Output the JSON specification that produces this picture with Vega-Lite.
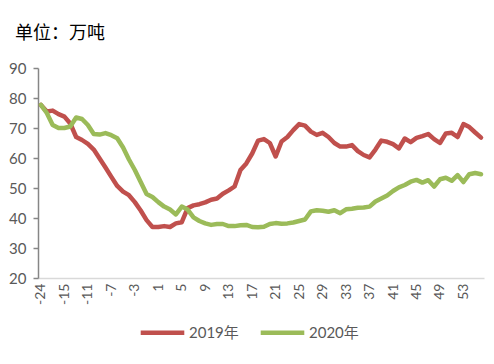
{
  "$schema": "https://vega.github.io/schema/vega-lite/v6.json",
  "width": 446,
  "height": 210,
  "autosize": {"type": "none"},
  "padding": {"left": 38, "top": 68, "right": 10, "bottom": 86},
  "background": "white",
  "title": {"text": "单位：万吨", "anchor": "start", "frame": "group", "dx": -23, "dy": 25, "offset": 29, "baseline": "alphabetic", "fontSize": 18, "fontWeight": "normal", "font": "Noto Sans CJK SC", "color": "#000000"},
  "data": {"values": [
    {"w": -24, "2019年": 77.7, "2020年": 77.7},
    {"w": -18, "2019年": 75.5, "2020年": 75},
    {"w": -17, "2019年": 75.8, "2020年": 71},
    {"w": -16, "2019年": 74.6, "2020年": 70},
    {"w": -15, "2019年": 73.8, "2020年": 70},
    {"w": -14, "2019年": 71.5, "2020年": 70.5},
    {"w": -13, "2019年": 67, "2020年": 73.5},
    {"w": -12, "2019年": 66, "2020年": 73},
    {"w": -11, "2019年": 64.7, "2020年": 71},
    {"w": -10, "2019年": 62.8, "2020年": 68},
    {"w": -9, "2019年": 59.8, "2020年": 67.8},
    {"w": -8, "2019年": 56.8, "2020年": 68.3},
    {"w": -7, "2019年": 53.7, "2020年": 67.6},
    {"w": -6, "2019年": 50.7, "2020年": 66.6},
    {"w": -5, "2019年": 48.8, "2020年": 63.5},
    {"w": -4, "2019年": 47.6, "2020年": 59.5},
    {"w": -3, "2019年": 45.3, "2020年": 56},
    {"w": -2, "2019年": 42.5, "2020年": 52},
    {"w": -1, "2019年": 39.3, "2020年": 48},
    {"w": 0, "2019年": 37, "2020年": 47},
    {"w": 1, "2019年": 37, "2020年": 45.3},
    {"w": 2, "2019年": 37.3, "2020年": 43.8},
    {"w": 3, "2019年": 37, "2020年": 42.8},
    {"w": 4, "2019年": 38.2, "2020年": 41.2},
    {"w": 5, "2019年": 38.6, "2020年": 43.8},
    {"w": 6, "2019年": 43.3, "2020年": 42.8},
    {"w": 7, "2019年": 44.2, "2020年": 40.2},
    {"w": 8, "2019年": 44.6, "2020年": 39},
    {"w": 9, "2019年": 45.2, "2020年": 38.2},
    {"w": 10, "2019年": 46.1, "2020年": 37.7},
    {"w": 11, "2019年": 46.5, "2020年": 38},
    {"w": 12, "2019年": 48.1, "2020年": 38},
    {"w": 13, "2019年": 49.2, "2020年": 37.3},
    {"w": 14, "2019年": 50.5, "2020年": 37.3},
    {"w": 15, "2019年": 56, "2020年": 37.6},
    {"w": 16, "2019年": 58.2, "2020年": 37.7},
    {"w": 17, "2019年": 61.5, "2020年": 37},
    {"w": 18, "2019年": 65.8, "2020年": 36.9},
    {"w": 19, "2019年": 66.3, "2020年": 37.1},
    {"w": 20, "2019年": 65, "2020年": 38},
    {"w": 21, "2019年": 60.5, "2020年": 38.3},
    {"w": 22, "2019年": 65.5, "2020年": 38.1},
    {"w": 23, "2019年": 67, "2020年": 38.2},
    {"w": 24, "2019年": 69.3, "2020年": 38.5},
    {"w": 25, "2019年": 71.3, "2020年": 39},
    {"w": 26, "2019年": 70.8, "2020年": 39.5},
    {"w": 27, "2019年": 68.8, "2020年": 42.2},
    {"w": 28, "2019年": 67.7, "2020年": 42.6},
    {"w": 29, "2019年": 68.4, "2020年": 42.4},
    {"w": 30, "2019年": 67, "2020年": 42.1},
    {"w": 31, "2019年": 65, "2020年": 42.6},
    {"w": 32, "2019年": 63.8, "2020年": 41.6},
    {"w": 33, "2019年": 63.8, "2020年": 42.9},
    {"w": 34, "2019年": 64.3, "2020年": 43.1},
    {"w": 35, "2019年": 62.3, "2020年": 43.4},
    {"w": 36, "2019年": 61, "2020年": 43.5},
    {"w": 37, "2019年": 60.2, "2020年": 43.8},
    {"w": 38, "2019年": 62.8, "2020年": 45.5},
    {"w": 39, "2019年": 65.8, "2020年": 46.5},
    {"w": 40, "2019年": 65.4, "2020年": 47.5},
    {"w": 41, "2019年": 64.6, "2020年": 49},
    {"w": 42, "2019年": 63.2, "2020年": 50.2},
    {"w": 43, "2019年": 66.5, "2020年": 51},
    {"w": 44, "2019年": 65.3, "2020年": 52.1},
    {"w": 45, "2019年": 66.7, "2020年": 52.7},
    {"w": 46, "2019年": 67.3, "2020年": 51.8},
    {"w": 47, "2019年": 68, "2020年": 52.6},
    {"w": 48, "2019年": 66.3, "2020年": 50.5},
    {"w": 49, "2019年": 65, "2020年": 52.9},
    {"w": 50, "2019年": 68.2, "2020年": 53.4},
    {"w": 51, "2019年": 68.4, "2020年": 52.4},
    {"w": 52, "2019年": 67, "2020年": 54.3},
    {"w": 53, "2019年": 71.3, "2020年": 52},
    {"w": 54, "2019年": 70.3, "2020年": 54.6},
    {"w": 55, "2019年": 68.5, "2020年": 55},
    {"w": 56, "2019年": 66.8, "2020年": 54.6}
  ]},
  "transform": [{"fold": ["2019年", "2020年"], "as": ["s", "v"]}],
  "mark": {"type": "line", "strokeWidth": 4.5, "strokeJoin": "round", "strokeCap": "round"},
  "encoding": {
    "x": {
      "field": "w", "type": "ordinal",
      "scale": {"type": "point", "padding": 0.5},
      "axis": {
        "values": [-24, -15, -11, -7, -3, 1, 5, 9, 13, 17, 21, 25, 29, 33, 37, 41, 45, 49, 53],
        "labelAngle": 270, "domainColor": "#D9D9D9", "domainWidth": 1.5, "ticks": false,
        "labelColor": "#595959", "labelFontSize": 14, "labelFont": "Lato", "labelPadding": 5,
        "title": null, "grid": false
      }
    },
    "y": {
      "field": "v", "type": "quantitative",
      "scale": {"domain": [20, 90], "nice": false, "zero": false},
      "axis": {
        "values": [20, 30, 40, 50, 60, 70, 80, 90],
        "domainColor": "#868686", "domainWidth": 1.5, "tickColor": "#868686", "tickSize": 5, "tickWidth": 1.5,
        "labelColor": "#595959", "labelFontSize": 15, "labelFont": "Lato", "labelPadding": 7,
        "title": null, "grid": false
      }
    },
    "color": {
      "field": "s", "type": "nominal",
      "scale": {"domain": ["2019年", "2020年"], "range": ["#C0504D", "#9BBB59"]},
      "legend": {
        "title": null, "orient": "none", "legendX": 100, "legendY": 240, "direction": "horizontal",
        "symbolType": "stroke", "symbolSize": 1900, "symbolStrokeWidth": 4.5,
        "labelFontSize": 15, "labelFont": "Lato, Noto Sans CJK SC", "labelColor": "#595959",
        "labelOffset": 2, "columnPadding": 12
      }
    }
  },
  "config": {"view": {"stroke": null}}
}
